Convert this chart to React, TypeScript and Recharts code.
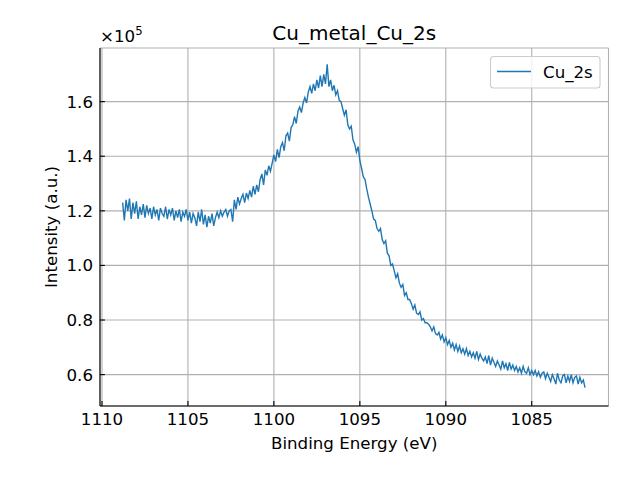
import { CartesianGrid, Line, LineChart, XAxis, YAxis } from "recharts";

// Cu 2s region, 0.1 eV steps starting at 1108.8 eV (intensity in units of 1e5)
const ENERGY_START = 1108.8;
const ENERGY_STEP = 0.1;

const background = [
  1.23, 1.165, 1.24, 1.2, 1.245, 1.17, 1.23, 1.19, 1.235,
  1.17, 1.215, 1.185, 1.225, 1.175, 1.22, 1.19, 1.21, 1.17, 1.215,
  1.185, 1.205, 1.165, 1.21, 1.19, 1.18, 1.215, 1.17, 1.205, 1.185,
  1.21, 1.165, 1.2, 1.175, 1.205, 1.16, 1.195, 1.18, 1.205, 1.165,
  1.195, 1.155, 1.19, 1.175, 1.145, 1.195, 1.16, 1.205, 1.15, 1.185,
  1.14, 1.18, 1.155, 1.19, 1.145, 1.175, 1.195, 1.175, 1.2, 1.18,
  1.195, 1.205, 1.18, 1.2, 1.205, 1.16,
];
const risingEdge = [
  1.24, 1.205, 1.25, 1.225,
  1.245, 1.26, 1.23, 1.265, 1.245, 1.275, 1.25, 1.29, 1.26, 1.295,
  1.27, 1.315, 1.335, 1.295, 1.35, 1.33, 1.365, 1.345, 1.375, 1.405,
  1.38, 1.425, 1.395, 1.435, 1.45, 1.42, 1.475, 1.485, 1.455, 1.505,
  1.515, 1.545, 1.52, 1.565, 1.58, 1.56, 1.595, 1.615, 1.595, 1.635,
];
const peak = [
  1.655, 1.63, 1.665, 1.64, 1.68, 1.65, 1.695, 1.655, 1.7, 1.665,
  1.737, 1.655, 1.68, 1.64, 1.66, 1.625, 1.64, 1.605, 1.6, 1.575,
];
const fallingEdge = [
  1.55, 1.57, 1.515, 1.5, 1.51, 1.46, 1.445, 1.415, 1.435, 1.385,
  1.355, 1.325, 1.315, 1.28, 1.25, 1.225, 1.2, 1.17, 1.165, 1.135,
  1.125, 1.135, 1.095, 1.08, 1.09, 1.045, 1.035, 1.0, 1.005, 0.98,
  0.955, 0.97, 0.935, 0.92, 0.93, 0.89, 0.9, 0.875, 0.875, 0.86,
  0.84, 0.855, 0.825, 0.82, 0.83, 0.8, 0.805, 0.79, 0.79, 0.785,
];
const tail = [
  0.775, 0.76, 0.775, 0.75, 0.745, 0.755, 0.73, 0.745, 0.72, 0.735,
  0.71, 0.725, 0.7, 0.715, 0.69, 0.71, 0.685, 0.705, 0.68, 0.695,
  0.675, 0.695, 0.67, 0.685, 0.665, 0.68, 0.66, 0.685, 0.655, 0.675,
  0.66, 0.65, 0.665, 0.64, 0.67, 0.635, 0.66, 0.645, 0.63, 0.65,
  0.635, 0.62, 0.65, 0.625, 0.64, 0.615, 0.645, 0.62, 0.635, 0.615,
  0.63, 0.61, 0.625, 0.605, 0.63, 0.61, 0.605, 0.625, 0.6, 0.615,
  0.6, 0.615, 0.595, 0.61, 0.59, 0.605, 0.61, 0.585, 0.605, 0.59,
  0.575, 0.6, 0.585, 0.565, 0.605, 0.58, 0.57, 0.595, 0.6, 0.57,
  0.595, 0.575, 0.6, 0.57, 0.59, 0.595, 0.565, 0.59, 0.57, 0.58,
  0.552,
];

const xTicks = [1110, 1105, 1100, 1095, 1090, 1085];
const yTicks = [0.6, 0.8, 1.0, 1.2, 1.4, 1.6];

const intensity = [...background, ...risingEdge, ...peak, ...fallingEdge, ...tail];
const data = intensity.map((v, i) => ({
  energy: +(ENERGY_START - i * ENERGY_STEP).toFixed(1),
  intensity: v,
}));

const W = 640;
const H = 480;
const LEFT = 100;
const RIGHT = 608.5;
const TOP = 48;
const BOTTOM = 406;
const FONT = "'DejaVu Sans', sans-serif";
const FS = 16.67;
const BLUE = "#1f77b4";

function XTick({ x, payload }: any) {
  return (
    <g>
      <line x1={x} x2={x} y1={BOTTOM} y2={BOTTOM - 4.9} stroke="#000" strokeWidth={1.1} />
      <text x={x} y={BOTTOM + 18.5} textAnchor="middle" fontSize={FS} fill="#000" fontFamily={FONT}>
        {payload.value}
      </text>
    </g>
  );
}

function YTick({ y, payload }: any) {
  return (
    <g>
      <line x1={LEFT} x2={LEFT + 4.9} y1={y} y2={y} stroke="#000" strokeWidth={1.1} />
      <text x={LEFT - 7} y={y + 6} textAnchor="end" fontSize={FS} fill="#000" fontFamily={FONT}>
        {payload.value.toFixed(1)}
      </text>
    </g>
  );
}

export default function App() {
  return (
    <div style={{ position: "absolute", left: 0, top: 0, width: W, height: H, background: "#fff", fontFamily: FONT }}>
      <LineChart
        width={W}
        height={H}
        data={data}
        margin={{ top: TOP, right: W - RIGHT, bottom: H - BOTTOM - 40, left: 0 }}
      >
        <CartesianGrid stroke="#b0b0b0" strokeWidth={1.1} />
        <XAxis
          dataKey="energy"
          type="number"
          domain={[1080.535, 1110.116]}
          reversed
          allowDataOverflow
          ticks={xTicks}
          interval={0}
          height={40}
          tick={<XTick />}
          tickLine={false}
          axisLine={{ stroke: "#000", strokeWidth: 1.1 }}
        />
        <XAxis
          xAxisId="top"
          orientation="top"
          type="number"
          domain={[1080.535, 1110.116]}
          reversed
          height={0}
          tick={false}
          tickLine={false}
          axisLine={{ stroke: "#000", strokeWidth: 1.1 }}
        />
        <YAxis
          type="number"
          domain={[0.485, 1.7965]}
          allowDataOverflow
          ticks={yTicks}
          interval={0}
          width={LEFT}
          tick={<YTick />}
          tickLine={false}
          axisLine={{ stroke: "#000", strokeWidth: 1.1 }}
        />
        <YAxis
          yAxisId="right"
          orientation="right"
          type="number"
          domain={[0.485, 1.7965]}
          width={0}
          tick={false}
          tickLine={false}
          axisLine={{ stroke: "#000", strokeWidth: 1.1 }}
        />
        <Line
          type="linear"
          dataKey="intensity"
          stroke={BLUE}
          strokeWidth={1.4}
          dot={false}
          isAnimationActive={false}
        />
      </LineChart>
      <svg
        width={W}
        height={H}
        style={{ position: "absolute", left: 0, top: 0, pointerEvents: "none" }}
        fontFamily={FONT}
      >
        <text x={(LEFT + RIGHT) / 2} y={40} textAnchor="middle" fontSize={20} fill="#000">
          Cu_metal_Cu_2s
        </text>
        <text x={LEFT} y={42} fontSize={FS} fill="#000">
          ×10<tspan dy={-7} fontSize={11.7}>5</tspan>
        </text>
        <text x={(LEFT + RIGHT) / 2} y={448.5} textAnchor="middle" fontSize={FS} fill="#000">
          Binding Energy (eV)
        </text>
        <text
          x={0}
          y={0}
          transform={`translate(57 ${(TOP + BOTTOM) / 2}) rotate(-90)`}
          textAnchor="middle"
          fontSize={FS}
          fill="#000"
        >
          Intensity (a.u.)
        </text>
        <rect x={490.5} y={56.5} width={109.5} height={31.5} rx={3} fill="#fff" fillOpacity={0.8} stroke="#cccccc" strokeWidth={1.1} />
        <line x1={497} x2={531} y1={71.5} y2={71.5} stroke={BLUE} strokeWidth={1.4} />
        <text x={543} y={77.5} fontSize={FS} fill="#000">
          Cu_2s
        </text>
      </svg>
    </div>
  );
}
